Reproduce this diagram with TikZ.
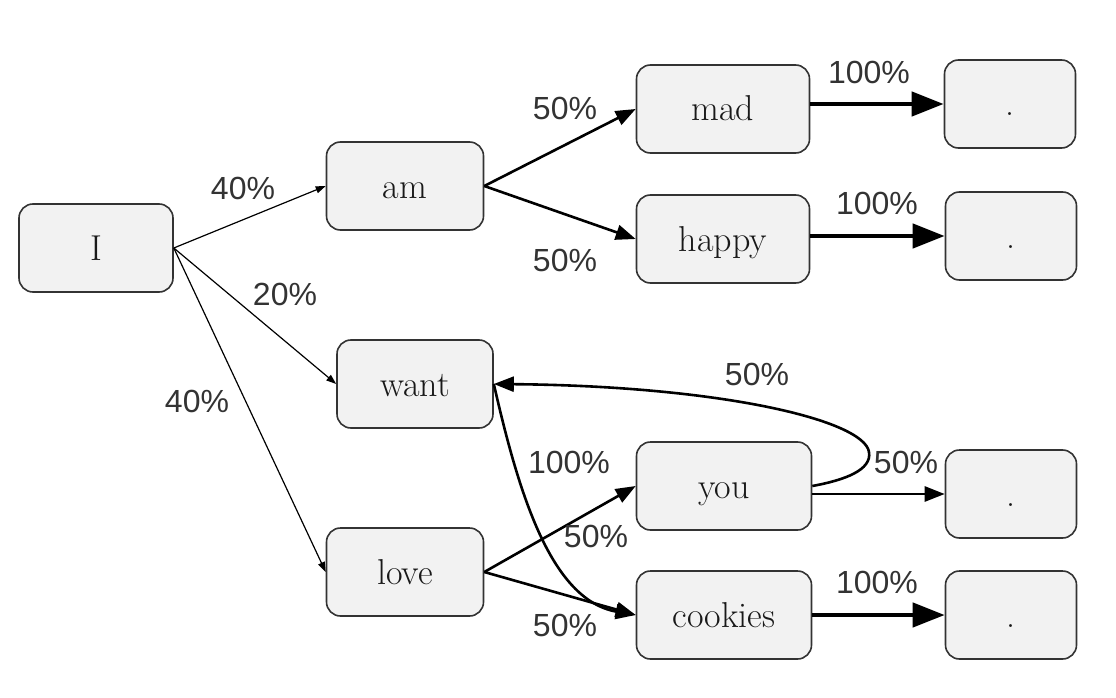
\documentclass[tikz,border=0pt]{standalone}
\usepackage{fontspec}
\newfontfamily\pctfont{Liberation Sans}
\usetikzlibrary{arrows.meta}

\definecolor{boxfill}{HTML}{F2F2F2}
\definecolor{boxline}{HTML}{333333}
\definecolor{pcttext}{HTML}{333333}

\tikzset{
	word/.style={draw=boxline, fill=boxfill, line width=1.6pt, rounded corners=14pt,
		minimum height=88pt, inner sep=0pt, text=black!90,
		text height=24pt, text depth=0pt,
		font=\fontsize{36}{40}\selectfont},
	pct/.style={text=pcttext, inner sep=0pt, font=\pctfont\fontsize{32}{36}\selectfont},
	thinedge/.style={line width=1.2pt, -{Triangle[length=10pt,width=7pt]}},
	midedge/.style={line width=2.6pt, -{Triangle[length=20pt,width=15pt]}},
	fulledge/.style={line width=4.5pt, -{Triangle[length=32pt,width=24pt]}}
}

\begin{document}
\begin{tikzpicture}[x=1pt, y=-1pt]
	
	\useasboundingbox (0,0) rectangle (1116,698);
	
	% words
	\node[word, minimum width=154pt] (I) at (96,248) {I};
	\node[word, minimum width=157pt] (am) at (405,186) {am};
	\node[word, minimum width=156pt] (want) at (415,384) {want};
	\node[word, minimum width=157pt] (love) at (405,572) {love};
	\node[word, minimum width=173pt] (mad) at (723,109) {mad};
	\node[word, minimum width=173pt] (happy) at (723,239) {happy};
	\node[word, minimum width=175pt] (you) at (724,486) {you};
	\node[word, minimum width=175pt] (cookies) at (724,615) {cookies};
	
	% end of sentence
	\node[word, minimum width=131pt] (end1) at (1010,104) {.};
	\node[word, minimum width=131pt] (end2) at (1011,236) {.};
	\node[word, minimum width=131pt] (end3) at (1011,494) {.};
	\node[word, minimum width=131pt] (end4) at (1011,615) {.};
	
	% from I
	\draw[thinedge] (I.east) -- (am.west);
	\draw[thinedge] (I.east) -- (want.west);
	\draw[thinedge] (I.east) -- (love.west);
	
	% from am, want, love
	\draw[midedge] (am.east) -- (mad.west);
	\draw[midedge] (am.east) -- (happy.west);
	\draw[midedge] (love.east) -- (you.west);
	\draw[midedge] (love.east) -- (cookies.west);
	\draw[midedge] (want.east) .. controls (518,490) and (550,600) .. (cookies.west);
	
	% you loops back to want
	\coordinate (turn) at (869,452);
	\draw[line width=2.6pt] (you.east) .. controls (845,480) and (872,470) .. (turn);
	\draw[midedge] (turn) .. controls (864,420) and (720,386) .. (want.east);
	\draw[midedge] (end3.west -| you.east) -- (end3.west);
	
	% sentence ends
	\draw[fulledge] (end1.west -| mad.east) -- (end1.west);
	\draw[fulledge] (end2.west -| happy.east) -- (end2.west);
	\draw[fulledge] (cookies.east) -- (end4.west);
	
	% percentages
	\node[pct] (p1) at (243,188) {40\%};
	\node[pct] (p2) at (285,294) {20\%};
	\node[pct] (p3) at (197,401) {40\%};
	\node[pct] (p4) at (565,108) {50\%};
	\node[pct] (p5) at (565,260) {50\%};
	\node[pct] (p6) at (869,72) {100\%};
	\node[pct] (p7) at (877,203) {100\%};
	\node[pct] (p8) at (757,374) {50\%};
	\node[pct] (p9) at (569,462) {100\%};
	\node[pct] (p10) at (906,462) {50\%};
	\node[pct] (p11) at (596,536) {50\%};
	\node[pct] (p12) at (565,625) {50\%};
	\node[pct] (p13) at (877,582) {100\%};
	
\end{tikzpicture}
\end{document}
